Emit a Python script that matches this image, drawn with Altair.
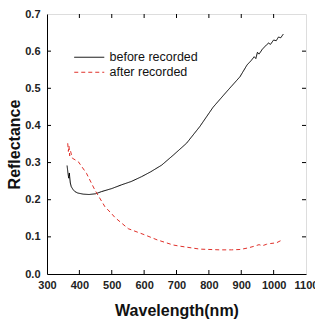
import altair as alt
import pandas as pd

# Reflectance spectra before and after recording
before_nm = [362, 365, 367, 369, 370, 372, 375, 380, 386, 395, 412, 430, 450, 469,
             500, 530, 560, 592, 620, 654, 690, 731, 772, 813, 855, 896, 918, 930,
             940, 945, 950, 955, 965, 978, 985, 990, 1000, 1008, 1015, 1022, 1030]
before_r = [0.292, 0.270, 0.258, 0.272, 0.262, 0.245, 0.235, 0.228, 0.222, 0.218,
            0.215, 0.214, 0.216, 0.222, 0.230, 0.240, 0.249, 0.262, 0.275, 0.293,
            0.320, 0.352, 0.397, 0.449, 0.491, 0.531, 0.563, 0.574, 0.585, 0.580,
            0.597, 0.592, 0.605, 0.617, 0.622, 0.618, 0.630, 0.628, 0.638, 0.636,
            0.646]

after_nm = [364, 366, 368, 370, 373, 378, 397, 422, 448, 479, 500, 510, 551, 600,
            640, 690, 710, 772, 834, 870, 896, 920, 937, 955, 965, 978, 990, 1009,
            1020, 1030]
after_r = [0.352, 0.330, 0.345, 0.318, 0.330, 0.312, 0.302, 0.271, 0.226, 0.181,
           0.162, 0.152, 0.122, 0.106, 0.092, 0.078, 0.075, 0.067, 0.065, 0.065,
           0.066, 0.070, 0.074, 0.079, 0.076, 0.080, 0.082, 0.084, 0.089, 0.092]

series_names = ["before recorded", "after recorded"]
series_colors = ["#000000", "#e0302a"]

x_ticks = [300, 400, 500, 600, 700, 800, 900, 1000, 1100]
y_ticks = [0.0, 0.1, 0.2, 0.3, 0.4, 0.5, 0.6, 0.7]

W, H = 259, 260
TICK = 4

df = pd.concat([
    pd.DataFrame({"nm": before_nm, "r": before_r, "series": series_names[0], "ord": range(len(before_nm))}),
    pd.DataFrame({"nm": after_nm, "r": after_r, "series": series_names[1], "ord": range(len(after_nm))}),
])

xscale = alt.Scale(domain=[300, 1100], nice=False, zero=False)
yscale = alt.Scale(domain=[0, 0.7], nice=False, zero=False)

font = "Liberation Sans"

xaxis = alt.Axis(values=x_ticks, format="d", title="Wavelength(nm)", grid=False,
                 tickSize=0, labelPadding=5, labelFontWeight="bold",
                 labelFontSize=11, labelFont=font, labelColor="#222",
                 domainColor="black", labelOverlap=False,
                 titleFont=font, titleFontSize=16, titleFontWeight="bold",
                 titleColor="#111", titleBaseline="middle", titleY=36,
                 labelFlush=False)
yaxis = alt.Axis(values=y_ticks, format=".1f", title="Reflectance", grid=False,
                 tickSize=0, labelPadding=7, labelFontWeight="bold",
                 labelFontSize=11, labelFont=font, labelColor="#222",
                 domainColor="black", labelOverlap=False, titleFont=font,
                 titleFontSize=16, titleFontWeight="bold", titleColor="#111",
                 titleBaseline="middle", titleX=-33, labelFlush=False)

# Legend line symbol: a 30px horizontal stroke (path scaled by sqrt(size)/2)
lines = alt.Chart(df).mark_line(strokeWidth=1).encode(
    x=alt.X("nm:Q", scale=xscale, axis=xaxis),
    y=alt.Y("r:Q", scale=yscale, axis=yaxis),
    color=alt.Color("series:N", scale=alt.Scale(domain=series_names, range=series_colors),
                    legend=alt.Legend(orient="none", legendX=36, legendY=37, title=None,
                                      symbolType="M-3,0H3", symbolSize=100,
                                      symbolStrokeWidth=1, labelFont=font,
                                      labelFontSize=12.5, labelColor="#111",
                                      labelOffset=14, rowPadding=2)),
    strokeDash=alt.StrokeDash("series:N",
                              scale=alt.Scale(domain=series_names, range=[[1, 0], [4, 3]]),
                              legend=None),
    order="ord:Q",
)

tx = pd.DataFrame({"v": x_ticks[1:-1]})
ty = pd.DataFrame({"v": y_ticks[1:-1]})

bottom_ticks = alt.Chart(tx).mark_rule(color="black", strokeWidth=1).encode(
    x=alt.X("v:Q", scale=xscale, axis=xaxis), y=alt.value(H), y2=alt.value(H - TICK))
top_ticks = alt.Chart(tx).mark_rule(color="black", strokeWidth=1).encode(
    x=alt.X("v:Q", scale=xscale, axis=xaxis), y=alt.value(0), y2=alt.value(TICK))
left_ticks = alt.Chart(ty).mark_rule(color="black", strokeWidth=1).encode(
    y=alt.Y("v:Q", scale=yscale, axis=yaxis), x=alt.value(0), x2=alt.value(TICK))
right_ticks = alt.Chart(ty).mark_rule(color="black", strokeWidth=1).encode(
    y=alt.Y("v:Q", scale=yscale, axis=yaxis), x=alt.value(W), x2=alt.value(W - TICK))

chart = alt.layer(lines, bottom_ticks, top_ticks, left_ticks, right_ticks).properties(
    width=W, height=H,
    autosize=alt.AutoSizeParams(type="none"),
    padding={"left": 47, "top": 14, "right": 9, "bottom": 47},
).configure_view(stroke="black", strokeWidth=1).configure(background="white")

chart.save("out.html", embed_options={"renderer": "svg", "actions": False})
